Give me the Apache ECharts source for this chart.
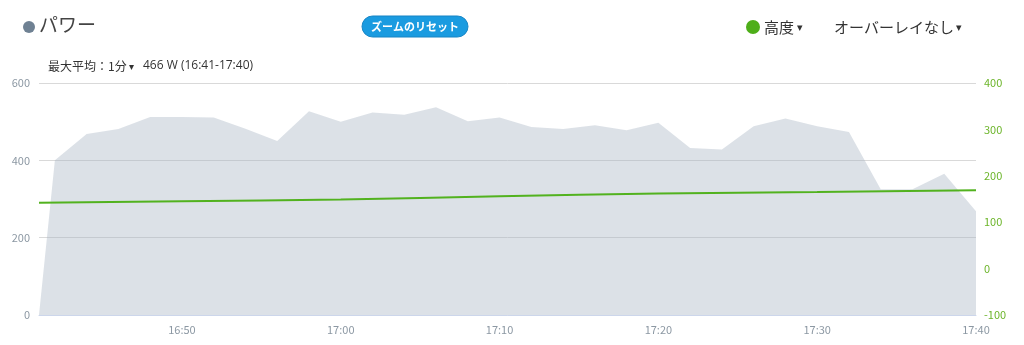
<!DOCTYPE html>
<html>
<head>
<meta charset="utf-8">
<script src="https://cdn.jsdelivr.net/npm/echarts@6/dist/echarts.min.js"></script>
<style>
html,body{margin:0;padding:0;background:#fff;}
#c{width:1024px;height:345px;}
</style>
</head>
<body>
<div id="c"></div>
<script>
// ---- data ----
var powerTimes = ["16:41","16:42","16:44","16:46","16:48","16:50","16:52","16:54","16:56","16:58",
  "17:00","17:02","17:04","17:06","17:08","17:10","17:12","17:14","17:16","17:18",
  "17:20","17:22","17:24","17:26","17:28","17:30","17:32","17:34","17:36","17:38","17:40"];
var powerValues = [0,400,468,481,512,512,511,482,450,527,
  500,524,518,537,501,511,486,481,491,478,
  497,432,428,488,508,488,473,325,325,365,268];
var altTimes = ["16:41","16:50","17:00","17:10","17:20","17:30","17:40"];
var altValues = [142,145,149,156,162,165,169];
var xTickLabels = ["16:50","17:00","17:10","17:20","17:30","17:40"];
var xStart = "16:41", xEnd = "17:40";
var leftTicks = {min:0, max:600, interval:200};
var rightTicks = {min:-100, max:400, interval:100};

function toMin(t){ var p=t.split(":"); return (+p[0])*60 + (+p[1]); }
function fmt(v){ var h=Math.floor(v/60), m=v%60; return h + ":" + (m<10?"0":"") + m; }

var FONT = '"Noto Sans CJK JP","Noto Sans",sans-serif';
var chart = echarts.init(document.getElementById('c'));
chart.setOption({
  animation:false,
  grid:{left:39, right:48, top:83, bottom:30},
  xAxis:{
    type:'value', min:toMin(xStart), max:toMin(xEnd),
    axisLine:{show:true, lineStyle:{color:'#ccd6eb', width:1}},
    axisTick:{show:false},
    splitLine:{show:false},
    axisLabel:{
      customValues: xTickLabels.map(toMin),
      formatter:function(v){return fmt(v);},
      color:'#8c98a3', fontSize:11, fontFamily:FONT, margin:9,
      showMaxLabel:true
    }
  },
  yAxis:[{
    type:'value', min:leftTicks.min, max:leftTicks.max, interval:leftTicks.interval,
    position:'left',
    axisLine:{show:false}, axisTick:{show:false},
    splitLine:{show:true, lineStyle:{color:'#d9d9d9', width:1}},
    axisLabel:{color:'#8c98a3', fontSize:11, fontFamily:FONT, margin:9}
  },{
    type:'value', min:rightTicks.min, max:rightTicks.max, interval:rightTicks.interval,
    position:'right',
    axisLine:{show:false}, axisTick:{show:false},
    splitLine:{show:false},
    axisLabel:{color:'#6cb52a', fontSize:11, fontFamily:FONT, margin:8}
  }],
  series:[{
    type:'line', yAxisIndex:0,
    data: powerTimes.map(function(t,i){return [toMin(t), powerValues[i]];}),
    showSymbol:false, lineStyle:{width:0},
    areaStyle:{color:'rgba(168,180,194,0.4)', opacity:1},
    z:1
  },{
    type:'line', yAxisIndex:1,
    data: altTimes.map(function(t,i){return [toMin(t), altValues[i]];}),
    showSymbol:false, smooth:true,
    lineStyle:{color:'#52b21f', width:2},
    z:3
  }],
  graphic:[
    {type:'circle', shape:{cx:29, cy:27, r:6}, style:{fill:'#6f8193'}},
    {type:'text', left:39, top:15, style:{text:'パワー', fontSize:19, fontFamily:FONT, fill:'#444'}},
    {type:'rect', shape:{x:362, y:16, width:106, height:21, r:10.5}, style:{fill:'#1a9be0', stroke:'#1684c4', lineWidth:1}},
    {type:'text', x:415, y:26.5, style:{text:'ズームのリセット', fontSize:11, fontWeight:'bold', fontFamily:FONT, fill:'#fff', align:'center', verticalAlign:'middle'}},
    {type:'circle', shape:{cx:753, cy:27, r:7}, style:{fill:'#4eae19'}},
    {type:'text', x:764, y:27, style:{text:'高度', fontSize:15, fontFamily:FONT, fill:'#333', verticalAlign:'middle'}},
    {type:'text', x:797, y:28, style:{text:'▾', fontSize:11, fontFamily:'DejaVu Sans', fill:'#333', verticalAlign:'middle'}},
    {type:'text', x:834, y:27, style:{text:'オーバーレイなし', fontSize:15, fontFamily:FONT, fill:'#333', verticalAlign:'middle'}},
    {type:'text', x:956, y:28, style:{text:'▾', fontSize:11, fontFamily:'DejaVu Sans', fill:'#333', verticalAlign:'middle'}},
    {type:'text', x:48, y:66, style:{text:'最大平均：1分', fontSize:12, fontFamily:FONT, fill:'#333', verticalAlign:'middle'}},
    {type:'text', x:129, y:67, style:{text:'▾', fontSize:10, fontFamily:'DejaVu Sans', fill:'#333', verticalAlign:'middle'}},
    {type:'text', x:143, y:66, style:{text:'466 W (16:41-17:40)', fontSize:12, fontFamily:'"Open Sans",sans-serif', fill:'#333', verticalAlign:'middle'}}
  ]
});
</script>
</body>
</html>
